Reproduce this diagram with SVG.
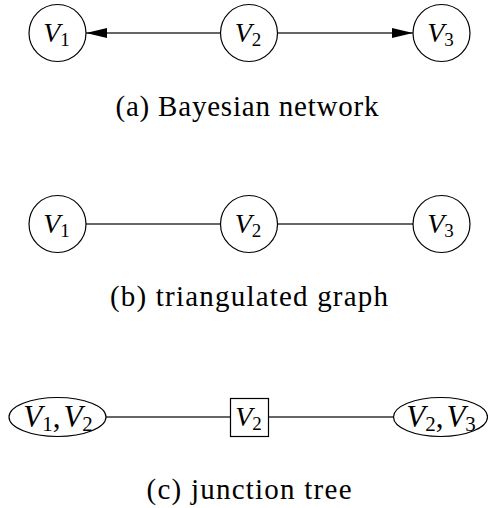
<svg xmlns="http://www.w3.org/2000/svg" width="488" height="508" viewBox="0 0 488 508">
<style>
.node{fill:#fff;stroke:#000;stroke-width:1.2}
.edge{stroke:#333;stroke-width:1.3;fill:none}
.lbl{font-size:28px;font-style:italic;fill:#000;text-anchor:middle}
.big{font-size:31px}
.sub{font-style:normal;font-size:19px}
.big .sub{font-size:21px}
.cap{font-size:29px;fill:#000;text-anchor:middle}
</style>
<defs>
<marker id="arr" markerUnits="userSpaceOnUse" markerWidth="21" markerHeight="10" refX="21" refY="5" orient="auto">
<path d="M0,0 L21,5 L0,10 z" fill="#000"/>
</marker>
</defs>
<rect width="488" height="508" fill="#fff"/>
<g id="connectors">
<line class="edge" x1="220" y1="33" x2="86" y2="33" marker-end="url(#arr)"/>
<line class="edge" x1="278" y1="33" x2="413" y2="33" marker-end="url(#arr)"/>
<line class="edge" x1="86" y1="224" x2="220" y2="224"/>
<line class="edge" x1="278" y1="224" x2="413" y2="224"/>
<line class="edge" x1="106" y1="417" x2="230" y2="417"/>
<line class="edge" x1="269" y1="417" x2="393" y2="417"/>
</g>
<g font-family="Liberation Serif, DejaVu Serif, serif">
<g id="a-V1"><circle class="node" cx="57.5" cy="33" r="28.5"/><text class="lbl" x="56.5" y="42">V<tspan class="sub" dy="4">1</tspan></text></g>
<g id="a-V2"><circle class="node" cx="249" cy="33" r="28.5"/><text class="lbl" x="248" y="42">V<tspan class="sub" dy="4">2</tspan></text></g>
<g id="a-V3"><circle class="node" cx="441.5" cy="33" r="28.5"/><text class="lbl" x="440.5" y="42">V<tspan class="sub" dy="4">3</tspan></text></g>
<text id="cap-a" class="cap" x="247" y="116" textLength="263" lengthAdjust="spacing">(a) Bayesian network</text>
<g id="b-V1"><circle class="node" cx="57.5" cy="224" r="28.5"/><text class="lbl" x="56.5" y="233">V<tspan class="sub" dy="4">1</tspan></text></g>
<g id="b-V2"><circle class="node" cx="249" cy="224" r="28.5"/><text class="lbl" x="248" y="233">V<tspan class="sub" dy="4">2</tspan></text></g>
<g id="b-V3"><circle class="node" cx="441.5" cy="224" r="28.5"/><text class="lbl" x="440.5" y="233">V<tspan class="sub" dy="4">3</tspan></text></g>
<text id="cap-b" class="cap" x="249" y="306" textLength="278" lengthAdjust="spacing">(b) triangulated graph</text>
<g id="c-V1V2"><ellipse class="node" cx="57.5" cy="417" rx="48.5" ry="19.5"/><text class="lbl big" x="58" y="427">V<tspan class="sub" dy="4">1</tspan><tspan dy="-4" font-style="normal">,</tspan><tspan dx="3">V</tspan><tspan class="sub" dy="4">2</tspan></text></g>
<g id="c-V2"><rect class="node" x="230.5" y="398.5" width="38" height="38"/><text class="lbl" x="248.5" y="426">V<tspan class="sub" dy="4">2</tspan></text></g>
<g id="c-V2V3"><ellipse class="node" cx="440.5" cy="417" rx="47" ry="19.5"/><text class="lbl big" x="441" y="427">V<tspan class="sub" dy="4">2</tspan><tspan dy="-4" font-style="normal">,</tspan><tspan dx="3">V</tspan><tspan class="sub" dy="4">3</tspan></text></g>
<text id="cap-c" class="cap" x="249" y="499" textLength="205" lengthAdjust="spacing">(c) junction tree</text>
</g>
</svg>
